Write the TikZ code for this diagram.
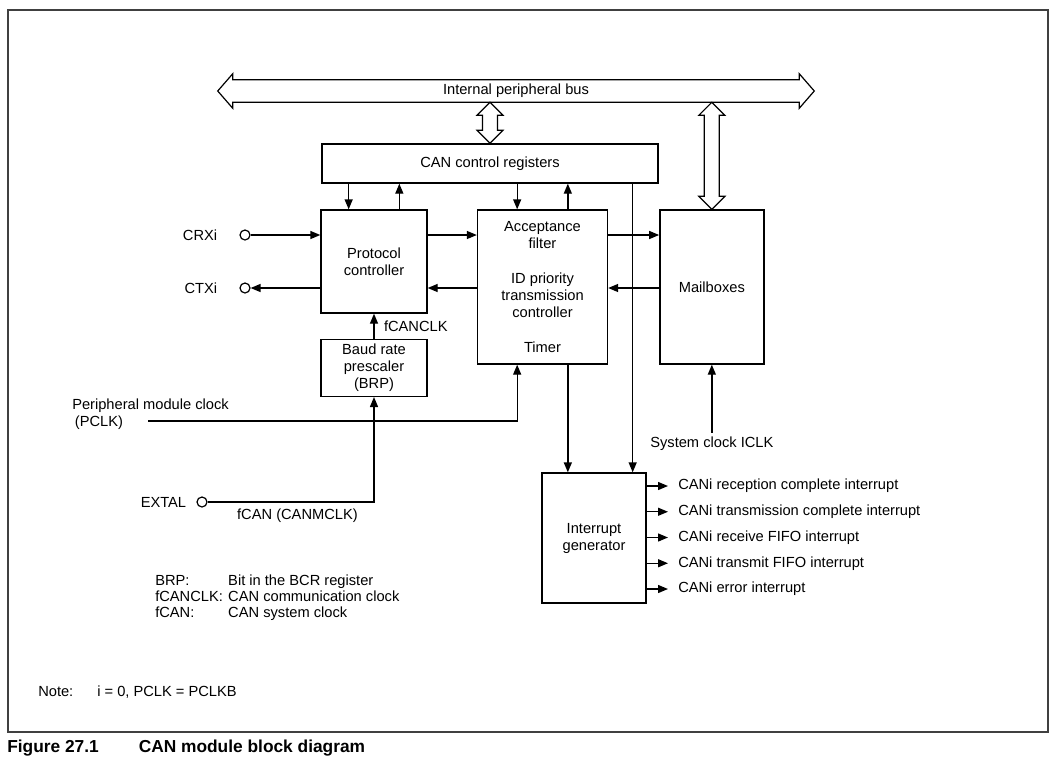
\documentclass[tikz,border=0pt]{standalone}
\usepackage{fontspec}
\setmainfont{Liberation Sans}
\usetikzlibrary{arrows.meta, positioning, calc}

\begin{document}
\begin{tikzpicture}[
    x=0.75pt, y=-0.75pt,
    font=\fontsize{11pt}{12.75pt}\selectfont,
    block/.style={rectangle, draw=black, line width=1pt, align=center, inner sep=0pt},
    lbl/.style={inner sep=3pt},
    arrow/.style={-{Triangle[length=7.5pt, width=6pt]}, line width=1pt},
    term/.style={circle, draw=black, fill=white, line width=0.9pt, inner sep=0pt, minimum size=7.5pt},
    hollow/.style={draw=black, line width=0.9pt, line join=miter}
]
\useasboundingbox (0,0) rectangle (1064,758);
\draw[line width=1.2pt, black!75] (8,10) rectangle (1048,732);

% bus and blocks
\node[minimum width=424.5pt, minimum height=16.5pt, inner sep=0pt] (bus) at (516,91) {Internal peripheral bus};
\node[block, minimum width=252pt, minimum height=29.25pt] (regs) at (490,163.5) {CAN control registers};
\node[block, minimum width=79.5pt, minimum height=77.25pt] (proto) at (374,261.5) {Protocol\\controller};
\node[block, minimum width=79.5pt, minimum height=42.75pt, below=18.75pt of proto] (brp) {Baud rate\\prescaler\\(BRP)};
\node[block, minimum width=97.5pt, minimum height=115.5pt] (accept) at (542.5,287) {Acceptance\\filter\\[13.5pt]ID priority\\transmission\\controller\\[13.5pt]Timer};
\node[block, minimum width=78pt, minimum height=115.5pt, right=38.25pt of accept] (mail) {Mailboxes};
\node[block, minimum width=78pt, minimum height=97.5pt] (intgen) at (594,538) {Interrupt\\generator};

\draw[hollow] ($(bus.west)+(-15,0)$) -- ($(bus.north west)+(0,-6)$) -- (bus.north west) -- (bus.north east)
    -- ($(bus.north east)+(0,-6)$) -- ($(bus.east)+(15,0)$) -- ($(bus.south east)+(0,6)$)
    -- (bus.south east) -- (bus.south west) -- ($(bus.south west)+(0,6)$) -- cycle;
\draw[hollow] (regs.north |- bus.south) -- ++(13,13) -- ++(-5.5,0) -- ($(regs.north)+(7.5,-13)$) -- ++(5.5,0)
    -- (regs.north) -- ++(-13,-13) -- ++(5.5,0) -- ($(regs.north |- bus.south)+(-7.5,13)$) -- ++(-5.5,0) -- cycle;
\draw[hollow] (mail.north |- bus.south) -- ++(13,13) -- ++(-5.5,0) -- ($(mail.north)+(7.5,-13)$) -- ++(5.5,0)
    -- (mail.north) -- ++(-13,-13) -- ++(5.5,0) -- ($(mail.north |- bus.south)+(-7.5,13)$) -- ++(-5.5,0) -- cycle;

% registers <-> blocks
\draw[arrow] ([xshift=-19pt]proto.north |- regs.south) -- ([xshift=-19pt]proto.north);
\draw[arrow] ([xshift=19pt]proto.north) -- ([xshift=19pt]proto.north |- regs.south);
\draw[arrow] ([xshift=-19pt]accept.north |- regs.south) -- ([xshift=-19pt]accept.north);
\draw[arrow] ([xshift=19pt]accept.north) -- ([xshift=19pt]accept.north |- regs.south);
\draw[arrow] ([xshift=29pt]intgen.north |- regs.south) -- ([xshift=29pt]intgen.north);
\draw[arrow] ([xshift=19pt]accept.south) -- ([xshift=19pt]accept.south |- intgen.north);

% pins
\node[term] (crx) at (245,235) {};
\node[lbl, left=13.5pt of crx] (crxtext) {CRXi};
\node[term] (ctx) at (245,288) {};
\node[lbl, left=13.5pt of ctx] (ctxtext) {CTXi};
\draw[arrow] (crx) -- (crx -| proto.west);
\draw[arrow] (proto.west |- ctx) -- (ctx);
\draw[arrow] (proto.east |- crx) -- (accept.west |- crx);
\draw[arrow] (accept.west |- ctx) -- (proto.east |- ctx);
\draw[arrow] (accept.east |- crx) -- (mail.west |- crx);
\draw[arrow] (mail.west |- ctx) -- (accept.east |- ctx);

% clocks
\draw[arrow] (brp) -- node[lbl, right=4pt] (fcanclk) {fCANCLK} (proto);
\node[lbl, anchor=west, align=left] (pclktext) at (68,414) {Peripheral module clock\\\hspace*{2pt}(PCLK)};
\coordinate (pclk) at (148,421);
\draw[arrow] (pclk) -| ([xshift=-19pt]accept.south);
\node[term] (extal) at (202,502) {};
\node[lbl, left=4.5pt of extal] (extaltext) {EXTAL};
\draw[arrow] (extal) -| node[lbl, below=2pt, pos=0.27] (fcan) {fCAN (CANMCLK)} (brp.south);
\node[lbl, below=51pt of mail] (iclk) {System clock ICLK};
\draw[arrow] (iclk) -- (mail);

% interrupt outputs
\foreach \txt [count=\k] in {CANi reception complete interrupt, CANi transmission complete interrupt,
    CANi receive FIFO interrupt, CANi transmit FIFO interrupt, CANi error interrupt} {
  \node[lbl, anchor=west, inner xsep=7.5pt] (irq\k) at (668,{460.25+25.75*\k}) {\txt};
  \draw[arrow] (intgen.east |- irq\k) -- (irq\k);
}

% legend and note
\node[anchor=north west, inner sep=0pt] (legend) at (155,574) {\fontsize{11pt}{12pt}\selectfont
  \begin{tabular}{@{}l@{\hspace{4pt}}l@{}}
  BRP: & Bit in the BCR register\\
  fCANCLK: & CAN communication clock\\
  fCAN: & CAN system clock
  \end{tabular}};
\node[anchor=west, inner sep=0pt] (note) at (38,692) {Note:\hspace{18pt}i = 0, PCLK = PCLKB};
\node[anchor=west, inner sep=0pt, font=\fontsize{13pt}{15pt}\selectfont\bfseries] (caption) at (7,748)
  {Figure 27.1\hspace{30pt}CAN module block diagram};
\end{tikzpicture}
\end{document}
